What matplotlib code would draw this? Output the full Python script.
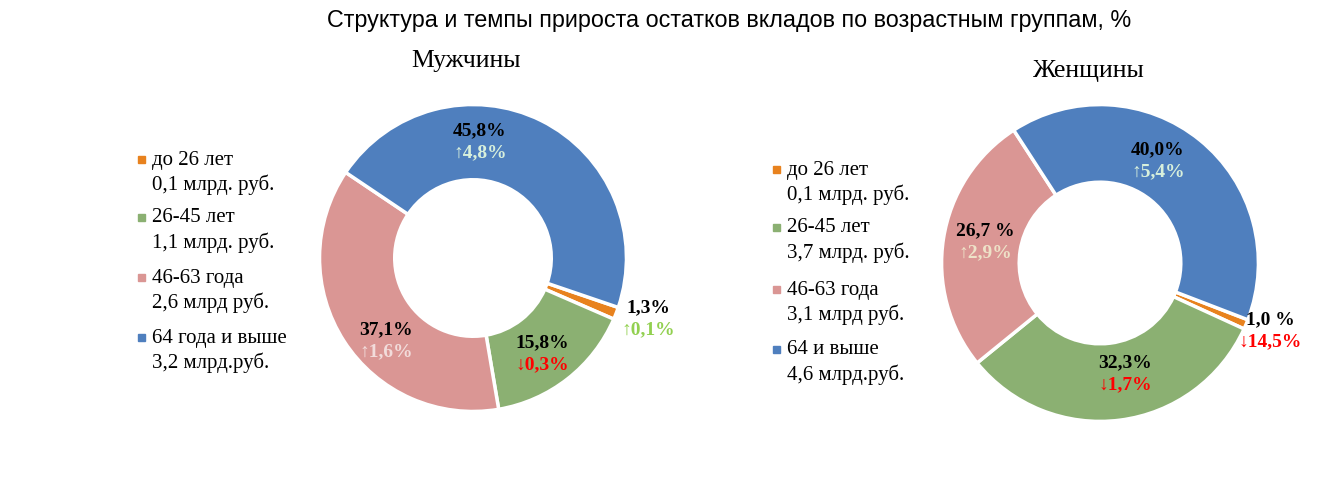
import matplotlib.pyplot as plt
from matplotlib.patches import Rectangle

W, H = 1328, 497

# --- data ---
groups = ["до 26 лет", "26-45 лет", "46-63 года", "64 года и выше"]
groups_w = ["до 26 лет", "26-45 лет", "46-63 года", "64 и выше"]
colors = ["#E8821E", "#8BB072", "#DA9694", "#4F7FBE"]

men_share = [1.3, 15.8, 37.1, 45.8]
men_share_lbl = ["1,3%", "15,8%", "37,1%", "45,8%"]
men_change = ["↑0,1%", "↓0,3%", "↑1,6%", "↑4,8%"]
men_change_col = ["#92D050", "#FF0000", "#F2DCDB", "#D8F0DC"]
men_amount = ["0,1 млрд. руб.", "1,1 млрд. руб.", "2,6 млрд руб.", "3,2 млрд.руб."]

women_share = [1.0, 32.3, 26.7, 40.0]
women_share_lbl = ["1,0 %", "32,3%", "26,7 %", "40,0%"]
women_change = ["↓14,5%", "↓1,7%", "↑2,9%", "↑5,4%"]
women_change_col = ["#FF0000", "#FF0000", "#EEE2C8", "#D8F0DC"]
women_amount = ["0,1 млрд. руб.", "3,7 млрд. руб.", "3,1 млрд руб.", "4,6 млрд.руб."]

SERIF = "Liberation Serif"


def px(x, y):
    return x / W, 1 - y / H


def donut(cx, cy, r, shares, start):
    ax = fig.add_axes([(cx - r) / W, 1 - (cy + r) / H, 2 * r / W, 2 * r / H])
    ax.pie(shares, colors=colors, startangle=start, counterclock=False,
           wedgeprops=dict(width=0.49, edgecolor="white", linewidth=2.5))
    ax.set_xlim(-1.01, 1.01)
    ax.set_ylim(-1.01, 1.01)
    ax.set_aspect("equal")
    return ax


def labels(pos, shares, changes, change_cols):
    for (x, y), s, c, col in zip(pos, shares, changes, change_cols):
        fig.text(*px(x, y), s, ha="center", va="center", fontsize=14,
                 fontweight="bold", family=SERIF, color="black")
        fig.text(*px(x, y + 22), c, ha="center", va="center", fontsize=14,
                 fontweight="bold", family=[SERIF, "DejaVu Serif"], color=col)


def legend(x, ys, names, amounts):
    for y, n, a, col in zip(ys, names, amounts, colors):
        fig.add_artist(Rectangle(px(x - 4, y + 3), 7 / W, 7 / H, color=col,
                                 transform=fig.transFigure))
        fig.text(*px(x + 10, y), n, ha="left", va="center", fontsize=15,
                 family=SERIF)
        fig.text(*px(x + 10, y + 25), a, ha="left", va="center", fontsize=15,
                 family=SERIF)


fig = plt.figure(figsize=(W / 100, H / 100), dpi=100)

fig.text(*px(729, 20), "Структура и темпы прироста остатков вкладов по возрастным группам, %",
         ha="center", va="center", fontsize=16.8, family="Liberation Sans")
fig.text(*px(466, 61), "Мужчины", ha="center", va="center", fontsize=18.5, family=SERIF)
fig.text(*px(1089, 71), "Женщины", ha="center", va="center", fontsize=18.5, family=SERIF)

donut(473, 258, 155, men_share, -18.8)
donut(1100, 263, 160, women_share, -21)

labels([(648, 308), (542, 343), (386, 330), (480, 131)],
       men_share_lbl, men_change, men_change_col)
labels([(1270, 320), (1125, 363), (985, 231), (1158, 150)],
       women_share_lbl, women_change, women_change_col)

legend(142, [160, 218, 278, 338], groups, men_amount)
legend(777, [170, 228, 290, 350], groups_w, women_amount)

fig.savefig("out.png", dpi=100)
